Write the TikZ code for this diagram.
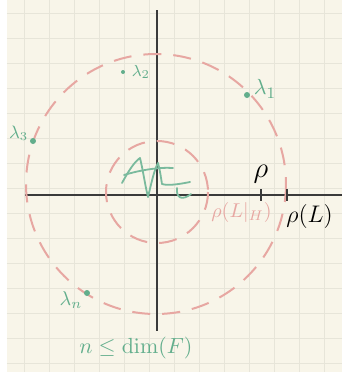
\documentclass[tikz,border=0pt]{standalone}
\usepackage{amsmath,amssymb}
\usepackage{tikz}
\usetikzlibrary{positioning,calc}
\usepackage{xcolor}
\definecolor{paper}{HTML}{F8F5E9}
\definecolor{gridline}{HTML}{E7E5D9}
\definecolor{pinkline}{HTML}{E7A7A2}
\definecolor{greenink}{HTML}{62AE8C}
\definecolor{axisink}{HTML}{3A3A3A}
\begin{document}
\begin{tikzpicture}[x=0.5pt, y=-0.5pt, node distance=1pt and 1pt, every node/.style={inner sep=0pt}]
\tikzset{circ/.style={draw=pinkline, line width=1pt, dash pattern=on 9pt off 6pt}}
\tikzset{axisline/.style={draw=axisink, line width=1pt}}
\tikzset{eig/.style={circle, fill=greenink, minimum size=3pt}}
\tikzset{eiglabel/.style={text=greenink, font=\fontsize{10}{12}\selectfont}}
\useasboundingbox (0,0) rectangle (342,372);
\fill[white] (0,0) rectangle (342,372);
\fill[paper] (7,0) rectangle (342,372);
\foreach \gx in {25,50,...,325} \draw[gridline, line width=0.5pt] (\gx,0) -- (\gx,372);
\foreach \gy in {13,38,...,363} \draw[gridline, line width=0.5pt] (7,\gy) -- (342,\gy);
% axes
\coordinate (O) at (157,195);
\coordinate (ytop) at (157,10);
\coordinate (ybot) at (157,331);
\coordinate (xleft) at (25,195);
\coordinate (xright) at (342,195);
\draw[axisline] (ytop) -- (ybot);
\draw[axisline] (xleft) -- (xright);
% spectrum circles
\coordinate (bigc) at (156,184);
\coordinate (smallc) at (157,192);
\draw[circ] (bigc) ellipse [x radius=130, y radius=130];
\draw[circ] (smallc) ellipse [x radius=51, y radius=51];
% ticks
\coordinate (trho) at (261,195);
\coordinate (trhoL) at (287,195);
\draw[axisline] ($(trho)+(0,-6)$) -- ($(trho)+(0,6)$);
\draw[axisline] ($(trhoL)+(0,-6)$) -- ($(trhoL)+(0,6)$);
\node[font=\fontsize{14}{16}\selectfont, above=6pt of trho] (rho) {$\rho$};
\node[font=\fontsize{12}{14}\selectfont, anchor=north west] (rhoL) at (286,204) {$\rho(L)$};
\node[text=pinkline, font=\fontsize{10}{12}\selectfont, anchor=north west] (rhoLH) at (211,202) {$\rho(L|_H)$};
% eigenvalues
\node[eig] (l1) at (247,95) {};
\node[eig, minimum size=2pt] (l2) at (123,72) {};
\node[eig] (l3) at (33,141) {};
\node[eig] (ln) at (87,293) {};
\node[eiglabel, above right=-3pt and 2pt of l1, font=\fontsize{11}{12}\selectfont] (tl1) {$\lambda_1$};
\node[eiglabel, right=3pt of l2, font=\fontsize{8}{10}\selectfont] (tl2) {$\lambda_2$};
\node[eiglabel, above left=-1pt and 1pt of l3, font=\fontsize{9}{10}\selectfont] (tl3) {$\lambda_3$};
\node[eiglabel, below left=-2pt and 1pt of ln] (tln) {$\lambda_n$};
\node[eiglabel, font=\fontsize{11}{13}\selectfont] (dimF) at (136,348) {$n \leq \dim(F)$};
% restricted spectrum scribble
\draw[greenink!85, line width=0.9pt, line cap=round, line join=round]
  (122,183) .. controls (128,172) and (134,162) .. (140,158)
  .. controls (143,170) and (145,185) .. (148,197)
  .. controls (151,185) and (154,170) .. (158,163)
  .. controls (160,170) and (161,178) .. (162,184)
  .. controls (168,186) and (180,184) .. (190,182);
\draw[greenink!85, line width=0.9pt, line cap=round]
  (124,175) .. controls (140,170) and (160,167) .. (173,168);
\draw[greenink!85, line width=0.9pt, line cap=round]
  (177,188) .. controls (176,198) and (182,201) .. (191,194);
\end{tikzpicture}
\end{document}
